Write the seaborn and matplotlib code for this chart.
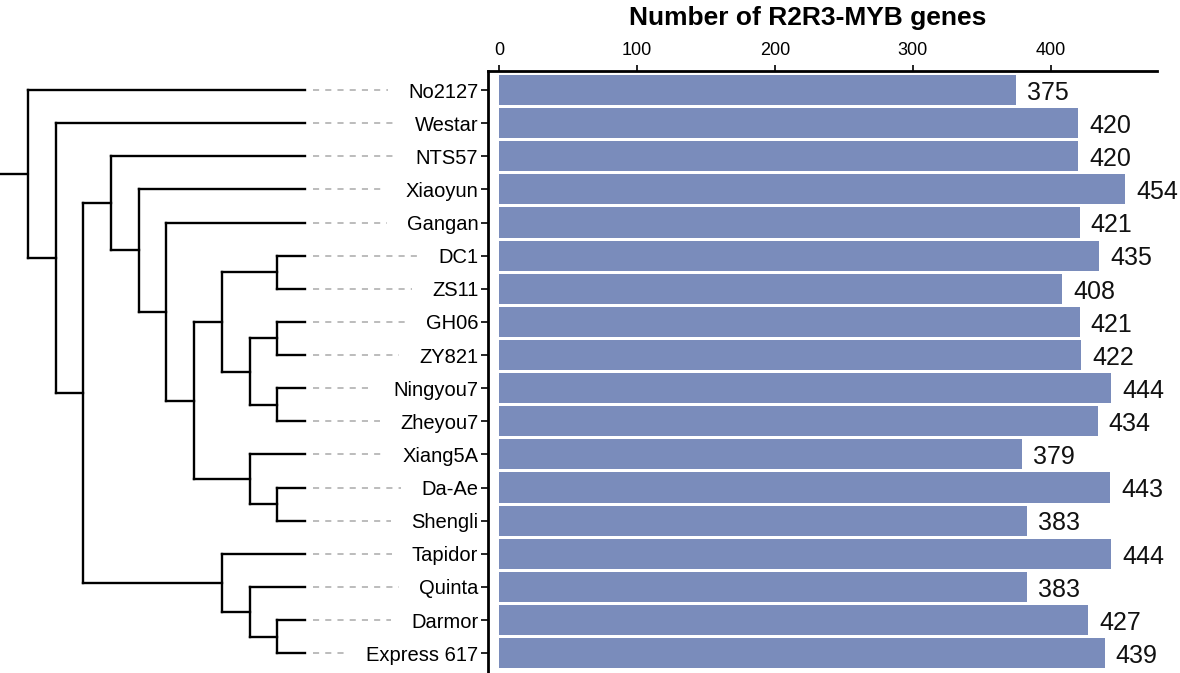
import matplotlib
matplotlib.use("Agg")
import matplotlib.pyplot as plt
import seaborn as sns

# cultivar names in tree order and their R2R3-MYB gene counts
names = ["No2127", "Westar", "NTS57", "Xiaoyun", "Gangan", "DC1", "ZS11", "GH06",
         "ZY821", "Ningyou7", "Zheyou7", "Xiang5A", "Da-Ae", "Shengli", "Tapidor",
         "Quinta", "Darmor", "Express 617"]
counts = [375, 420, 420, 454, 421, 435, 408, 421, 422, 444, 434, 379, 443, 383,
          444, 383, 427, 439]
xticks = [0, 100, 200, 300, 400]

# tree topology (nested pairs), drawn as a cladogram
tree = ("No2127",
        ("Westar",
         (("NTS57",
           ("Xiaoyun",
            ("Gangan",
             ((("DC1", "ZS11"), (("GH06", "ZY821"), ("Ningyou7", "Zheyou7"))),
              ("Xiang5A", ("Da-Ae", "Shengli")))))),
          ("Tapidor", ("Quinta", ("Darmor", "Express 617"))))))

sns.set_style("white")
plt.rcParams["font.family"] = ["Liberation Sans", "DejaVu Sans"]
plt.rcParams["text.color"] = "black"
plt.rcParams["xtick.color"] = "black"
plt.rcParams["ytick.color"] = "black"

fig = plt.figure(figsize=(11.8, 6.73), dpi=100)
ax = fig.add_axes([488 / 1180, 0, 669 / 1180, 602.5 / 673])
tax = fig.add_axes([0, 0, 488 / 1180, 602.5 / 673])

# bars
sns.barplot(x=counts, y=names, orient="h", color="#7a8cbb", saturation=1,
            width=0.91, linewidth=0, ax=ax)
vals = ax.bar_label(ax.containers[0], padding=8, fontsize=18, color="#111111")
for t in vals:
    t.xyann = (8, -2)
ax.set_xlim(-8, 477)
ax.set_ylim(17.6, -0.59)
ax.set_xticks(xticks)
ax.xaxis.tick_top()
ax.set_xlabel("")
ax.set_ylabel("")
for s in ["right", "bottom"]:
    ax.spines[s].set_visible(False)
for s in ["top", "left"]:
    ax.spines[s].set_linewidth(2)
    ax.spines[s].set_color("black")
ax.tick_params(axis="x", top=True, length=4, width=1.2, labelsize=13, pad=4)
ax.tick_params(axis="y", left=True, length=5, width=1.2, labelsize=14.5, pad=2)
fig.text(808 / 1180, 1 - 18 / 673, "Number of R2R3-MYB genes", ha="center",
         va="center", fontsize=19, fontweight="bold")

# tree
row = {n: i for i, n in enumerate(names)}


def height(node):
    if isinstance(node, str):
        return 0
    return 1 + max(height(c) for c in node)


def draw(node):
    if isinstance(node, str):
        return 0, row[node]
    x = -height(node)
    ys = []
    for c in node:
        cx, cy = draw(c)
        tax.plot([x, cx], [cy, cy], color="black", lw=1.7, solid_capstyle="projecting")
        ys.append(cy)
    tax.plot([x, x], [min(ys), max(ys)], color="black", lw=1.7, solid_capstyle="projecting")
    return x, (min(ys) + max(ys)) / 2


rx, ry = draw(tree)
tax.plot([rx - 1, rx], [ry, ry], color="black", lw=1.7)
step = 27.7
tax.set_xlim(-305 / step, (488 - 305) / step)
tax.set_ylim(17.6, -0.59)
tax.axis("off")

# dashed leaders from tips to labels
fig.canvas.draw()
inv = tax.transData.inverted()
for lab in ax.get_yticklabels():
    bb = lab.get_window_extent()
    xend = inv.transform((bb.x0 - 20, 0))[0]
    y = row[lab.get_text()]
    tax.plot([0.3, xend], [y, y], color="#aaaaaa", lw=1.1, linestyle=(0, (4, 4)))

fig.savefig("out.png", dpi=100)
